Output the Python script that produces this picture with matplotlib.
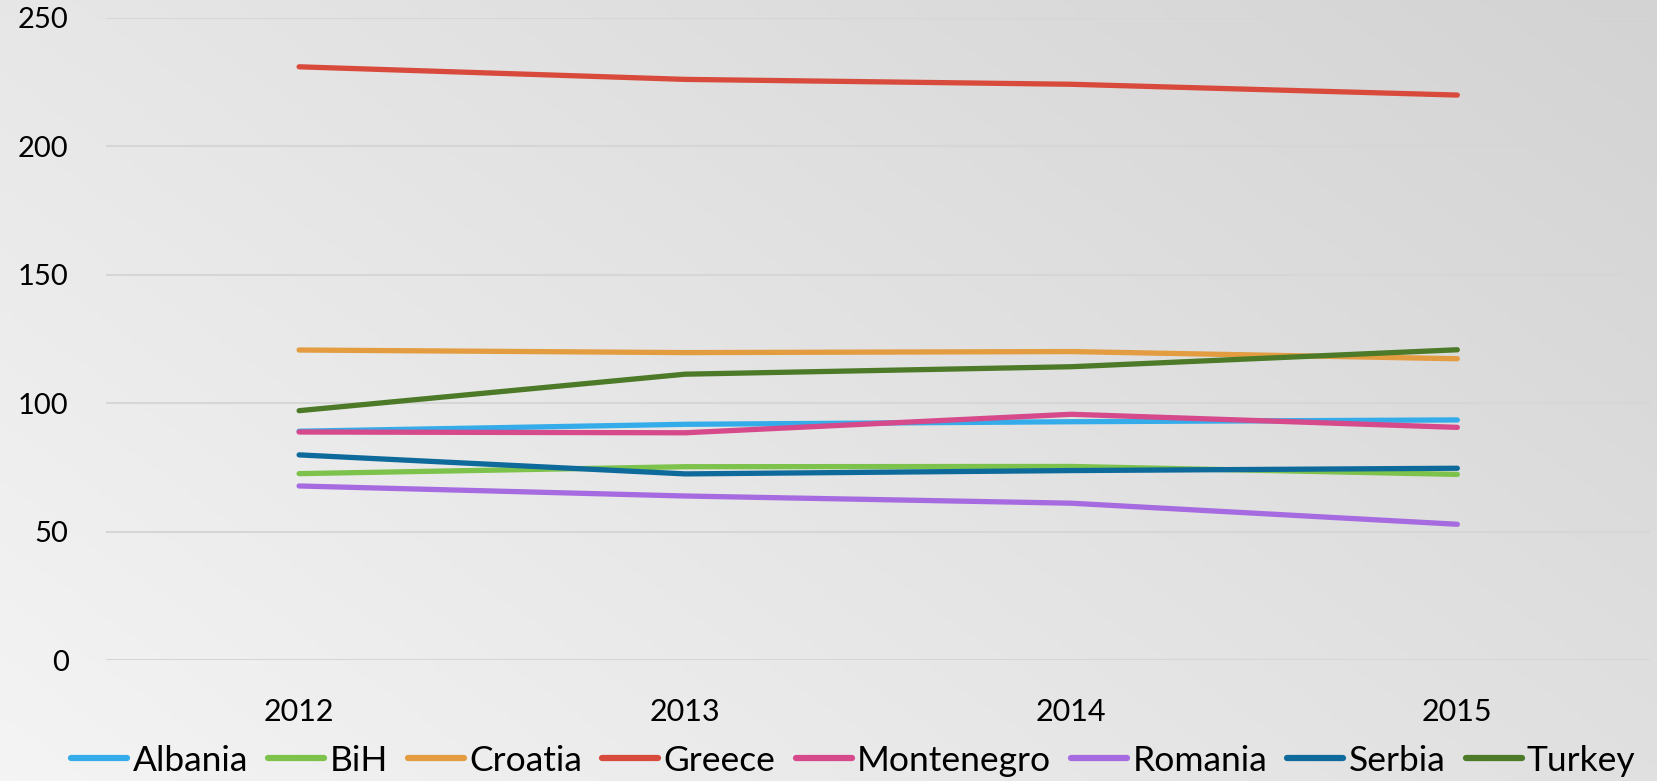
import numpy as np
import matplotlib
matplotlib.use("Agg")
import matplotlib.pyplot as plt

years = ["2012", "2013", "2014", "2015"]
countries = ["Albania", "BiH", "Croatia", "Greece", "Montenegro", "Romania", "Serbia", "Turkey"]
albania = [89.2, 91.9, 92.9, 93.6]
bih = [72.7, 75.4, 75.5, 72.4]
croatia = [120.8, 119.8, 120.2, 117.4]
greece = [231.0, 226.1, 224.2, 220.0]
montenegro = [88.9, 88.6, 95.8, 90.7]
romania = [67.9, 64.0, 61.2, 53.0]
serbia = [80.0, 72.6, 73.9, 74.8]
turkey = [97.2, 111.4, 114.3, 120.9]
colors = ["#35acea", "#7dc24b", "#e39c3f", "#d84b3c", "#d6498a", "#a66be0", "#0e6a9a", "#4d7a28"]
yticks = [0, 50, 100, 150, 200, 250]

series = [albania, bih, croatia, greece, montenegro, romania, serbia, turkey]

plt.rcParams['font.family'] = ['Lato', 'DejaVu Sans']

fig = plt.figure(figsize=(16.57, 7.81), dpi=100)

# background gradient
bg = fig.add_axes([0, 0, 1, 1], zorder=-10)
gx, gy = np.meshgrid(np.linspace(0, 1, 300), np.linspace(0, 1, 150))
g = (gx * 0.6 + (1 - gy) * 0.4)
bg.imshow(g, cmap=matplotlib.colors.LinearSegmentedColormap.from_list("g", ["#f4f4f4", "#d3d3d3"]),
          aspect='auto', extent=[0, 1, 0, 1], origin='upper')
bg.axis('off')

ax = fig.add_axes([0.064, 0.1543, 0.932, 0.8227])
ax.patch.set_alpha(0)
x = np.arange(len(years))
for name, vals, c in zip(countries, series, colors):
    ax.plot(x, vals, color=c, lw=3.8, solid_capstyle='round', solid_joinstyle='round', label=name)

ax.set_xlim(-0.5, len(years) - 0.5)
ax.set_ylim(0, 250)
ax.set_yticks(yticks)
ax.set_yticklabels([str(v) for v in yticks], fontsize=21)
ax.set_xticks(x)
ax.set_xticklabels(years, fontsize=22)
ax.tick_params(axis='both', length=0)
ax.tick_params(axis='y', pad=27)
ax.tick_params(axis='x', pad=27)
ax.grid(axis='y', color='#d6d6d6', lw=1.5)
ax.set_axisbelow(True)
for s in ax.spines.values():
    s.set_visible(False)

leg = fig.legend(loc='center', bbox_to_anchor=(0.515, 0.026), ncol=8, frameon=False,
                 fontsize=25.5, handlelength=1.58, handletextpad=0.15, columnspacing=0.57)
for line in leg.get_lines():
    line.set_linewidth(4.5)
    line.set_solid_capstyle('round')

fig.savefig("out.png", dpi=100)
